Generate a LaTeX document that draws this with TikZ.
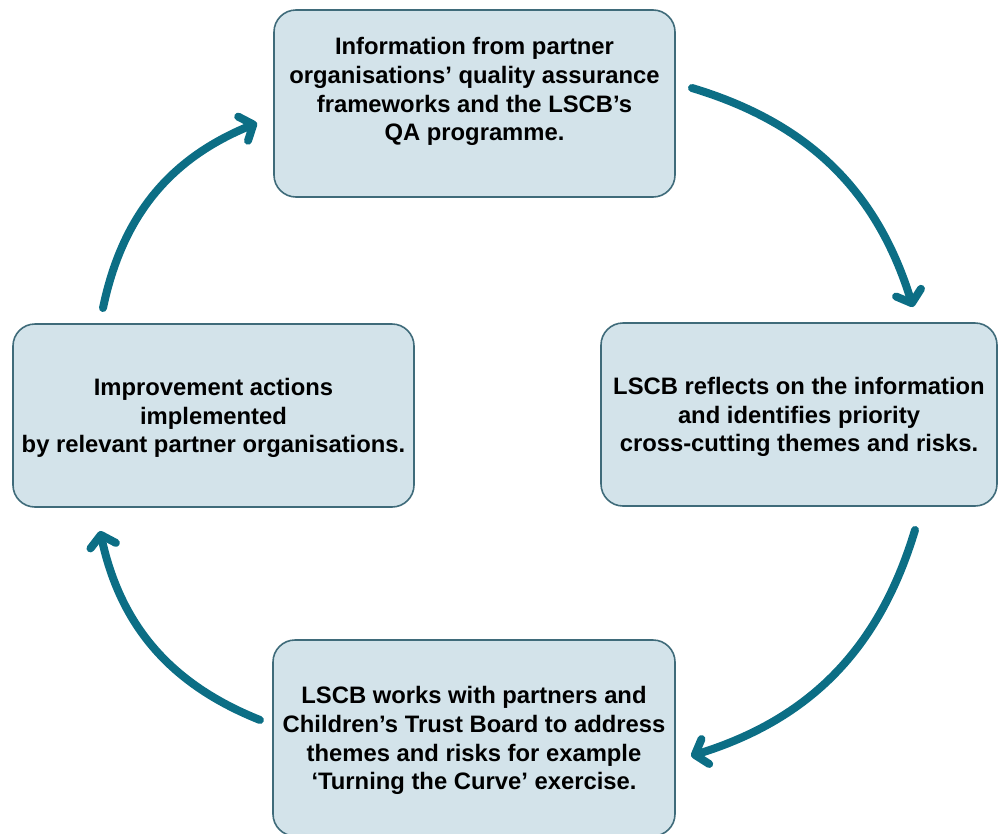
\documentclass[tikz,border=0pt]{standalone}
\usepackage{fontspec}
\setmainfont{Liberation Sans}
\usepackage{tikz}
\usetikzlibrary{arrows.meta}

\definecolor{boxfill}{HTML}{D3E3EA}
\definecolor{boxline}{HTML}{3F6B7A}
\definecolor{cyclearrow}{HTML}{0C6E85}

\begin{document}
\begin{tikzpicture}[x=1pt,y=-1pt,
  stagebox/.style={draw=boxline, line width=1.6pt, fill=boxfill, rounded corners=22pt,
    align=center, inner sep=0pt, text depth=0pt, font=\bfseries\fontsize{23.8}{28.8}\selectfont},
  cycle/.style={draw=cyclearrow, line width=8pt, line cap=round,
    -{Straight Barb[length=11pt, width=26pt, round]}}]

\useasboundingbox (0,0) rectangle (998,833);

% Four stages
\node[stagebox, minimum width=401pt, minimum height=187pt] (info) at (474.5,103.5)
  {Information from partner\\organisations’ quality assurance\\frameworks and the LSCB’s\\QA programme.\\\mbox{}};
\node[stagebox, minimum width=396pt, minimum height=183pt] (reflect) at (799,414.5)
  {LSCB reflects on the information\\and identifies priority\\cross-cutting themes and risks.};
\node[stagebox, minimum width=402pt, minimum height=196pt] (works) at (474,738)
  {LSCB works with partners and\\Children’s Trust Board to address\\themes and risks for example\\‘Turning the Curve’ exercise.};
\node[stagebox, minimum width=401pt, minimum height=183pt] (improve) at (213.5,415.5)
  {Improvement actions\\implemented\\by relevant partner organisations.};

% Ends of the curved arrows
\coordinate (infoout) at (692,88);
\coordinate (reflectin) at (913,307);
\coordinate (reflectout) at (915,530);
\coordinate (worksin) at (691,756);
\coordinate (worksout) at (260,720);
\coordinate (improvein) at (100,531);
\coordinate (improveout) at (103,308);
\coordinate (infoin) at (257,123);

% Curved arrows, clockwise
\draw[cycle] (infoout) to[bend left=28] (reflectin);
\draw[cycle] (reflectout) to[bend left=28] (worksin);
\draw[cycle] (worksout) to[bend left=28] (improvein);
\draw[cycle] (improveout) to[bend left=28] (infoin);

\end{tikzpicture}
\end{document}
